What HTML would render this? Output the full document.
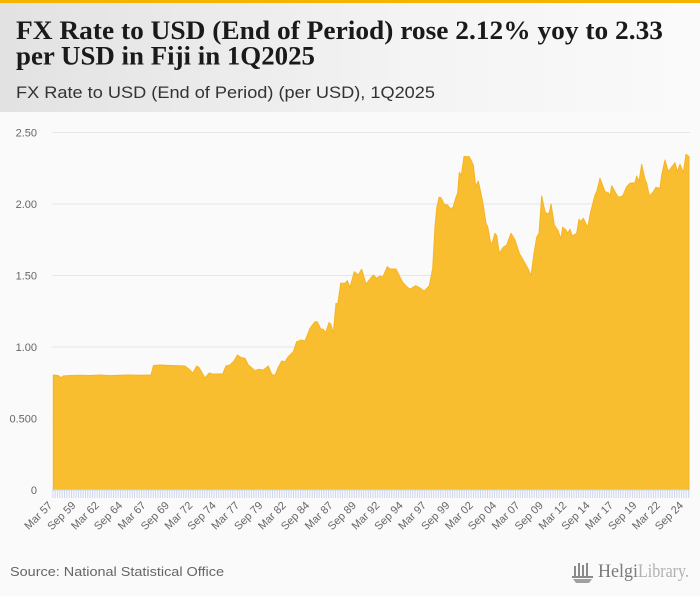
<!DOCTYPE html>
<html><head><meta charset="utf-8"><style>
html,body{margin:0;padding:0;background:#fafafa;}
svg{display:block;}
</style></head><body>
<svg width="700" height="596" viewBox="0 0 700 596" xmlns="http://www.w3.org/2000/svg">
<defs>
<linearGradient id="hg" x1="0" y1="0" x2="1" y2="0">
<stop offset="0" stop-color="#e2e2e2"/>
<stop offset="0.6" stop-color="#f4f4f4"/>
<stop offset="1" stop-color="#fafafa"/>
</linearGradient>
<pattern id="tk" x="52.3" y="490" width="2.3371" height="9" patternUnits="userSpaceOnUse">
<rect x="0" y="0" width="1" height="9" fill="#ccd6eb"/>
</pattern>
</defs>
<rect x="0" y="0" width="700" height="596" fill="#fafafa"/>
<rect x="0" y="3" width="700" height="109" fill="url(#hg)"/>
<rect x="0" y="0" width="700" height="3" fill="#f5b400"/>

<text x="16" y="39" font-family="Liberation Serif, serif" font-weight="bold" font-size="26" fill="#1a1a1a" textLength="647" lengthAdjust="spacingAndGlyphs">FX Rate to USD (End of Period) rose 2.12% yoy to 2.33</text>
<text x="16" y="64.5" font-family="Liberation Serif, serif" font-weight="bold" font-size="26" fill="#1a1a1a" textLength="299" lengthAdjust="spacingAndGlyphs">per USD in Fiji in 1Q2025</text>
<text x="16" y="98" font-family="Liberation Sans, sans-serif" font-size="17" fill="#333" textLength="419" lengthAdjust="spacingAndGlyphs">FX Rate to USD (End of Period) (per USD), 1Q2025</text>

<g stroke="#e6e6e6" stroke-width="1">
<line x1="52" y1="132.5" x2="690" y2="132.5"/>
<line x1="52" y1="204" x2="690" y2="204"/>
<line x1="52" y1="275.5" x2="690" y2="275.5"/>
<line x1="52" y1="347" x2="690" y2="347"/>
<line x1="52" y1="418.5" x2="690" y2="418.5"/>
</g>

<g font-family="Liberation Sans, sans-serif" font-size="11" fill="#666" text-anchor="end">
<text x="37" y="136.5">2.50</text>
<text x="37" y="208">2.00</text>
<text x="37" y="279.5">1.50</text>
<text x="37" y="351">1.00</text>
<text x="37" y="422.5">0.500</text>
<text x="37" y="494">0</text>
</g>

<path fill="#f9bd30" stroke="#f6b522" stroke-width="1" stroke-linejoin="round" d="M53.3,490 L53.3,375 L58,375.5 L61,377.7 L63,376 L70,375.5 L80,375.3 L90,375.5 L100,375 L110,375.6 L120,375.2 L130,375 L140,375.3 L151,375 L153.5,365.5 L160,365 L170,365.5 L180,365.8 L185,366 L190,370 L192.7,373.3 L196.7,366 L199,367.5 L205,378 L209.3,373 L212,374 L222.7,374 L226,366 L230,365 L234,361 L237.5,355 L241,357.5 L245,358.3 L248.3,365 L252,368 L255,371 L258.3,369.3 L263.3,370 L268.3,366 L271.7,374.3 L275,375.3 L278,368 L281.7,361 L285,361.7 L288.3,356.7 L293.3,351.7 L296.7,341.7 L301.7,340 L305,341 L310,328.3 L315,321.7 L317.3,321.7 L320.7,329 L323.3,329.3 L325.7,332.7 L329,322.7 L330.7,324 L333.3,333.3 L336,303.3 L337.7,304.3 L340.7,283.3 L345,283.3 L347.3,280.7 L350,287.3 L354.3,271.7 L358.3,275 L361.7,269.3 L366,284 L370,279 L373.3,275 L376.7,278.3 L380,276 L382.7,277.3 L387.3,266.7 L390,269 L396,269 L402.3,281.7 L406,286 L410,289.3 L415.7,285.7 L420,288 L424.3,291 L429.3,285.7 L432.7,268.3 L435,226.7 L436.7,208.3 L439,197.3 L441,197.7 L444.3,204.3 L447.3,205 L451,209 L453.3,206.7 L456,197.3 L457.7,192.7 L459.3,172.3 L461.3,175.5 L464,156.5 L469.3,156.7 L473.3,165 L475.7,186.7 L478.3,181 L482.7,201.7 L486,223.3 L487.7,226.7 L490.7,243.3 L492.3,242.7 L495,233.3 L496.7,235.7 L499.3,253.3 L503.3,247.3 L506.7,245 L511,233.3 L515,240 L519.3,253.3 L525,263.3 L528.3,269.3 L531,275.7 L534,253.3 L536.7,237.3 L539,233.3 L541.7,196 L545,211.7 L547.3,214 L549.3,212.7 L551,204 L554.3,225 L558.3,231 L560.7,239.3 L562.7,227.3 L566,230 L567.7,233.3 L570,229.3 L572.3,236 L576.7,233.3 L579,219.3 L581,221.7 L583.3,218.3 L587.7,227.3 L590.7,211.7 L595,195 L596.7,191.7 L600,178.3 L605,191.7 L608.3,192.7 L610,196 L611.7,185.7 L615,191.7 L618.3,197.3 L622.7,196 L626.7,186.7 L630,183.3 L635,182.7 L636.7,176 L639,181.7 L641.7,164.3 L645,179.3 L646.7,183.3 L649.3,196 L652.7,192.7 L656,187.3 L660,188.3 L661.7,175 L665,160 L668.3,171.7 L675,162.7 L677.3,171.7 L680,164.3 L683.3,172.7 L686,154.3 L689,156.7 L689,490 Z"/>

<rect x="52.3" y="490" width="638" height="8" fill="url(#tk)"/>
<line x1="52" y1="490" x2="690" y2="490" stroke="#ccd6eb" stroke-width="1"/>

<g font-family="Liberation Sans, sans-serif" font-size="11" fill="#666" text-anchor="end">
<text x="53" y="506" transform="rotate(-45 53 506)">Mar 57</text>
<text x="76.4" y="506" transform="rotate(-45 76.4 506)">Sep 59</text>
<text x="99.7" y="506" transform="rotate(-45 99.7 506)">Mar 62</text>
<text x="123.1" y="506" transform="rotate(-45 123.1 506)">Sep 64</text>
<text x="146.5" y="506" transform="rotate(-45 146.5 506)">Mar 67</text>
<text x="169.9" y="506" transform="rotate(-45 169.9 506)">Sep 69</text>
<text x="193.2" y="506" transform="rotate(-45 193.2 506)">Mar 72</text>
<text x="216.6" y="506" transform="rotate(-45 216.6 506)">Sep 74</text>
<text x="240" y="506" transform="rotate(-45 240 506)">Mar 77</text>
<text x="263.3" y="506" transform="rotate(-45 263.3 506)">Sep 79</text>
<text x="286.7" y="506" transform="rotate(-45 286.7 506)">Mar 82</text>
<text x="310.1" y="506" transform="rotate(-45 310.1 506)">Sep 84</text>
<text x="333.5" y="506" transform="rotate(-45 333.5 506)">Mar 87</text>
<text x="356.8" y="506" transform="rotate(-45 356.8 506)">Sep 89</text>
<text x="380.2" y="506" transform="rotate(-45 380.2 506)">Mar 92</text>
<text x="403.6" y="506" transform="rotate(-45 403.6 506)">Sep 94</text>
<text x="426.9" y="506" transform="rotate(-45 426.9 506)">Mar 97</text>
<text x="450.3" y="506" transform="rotate(-45 450.3 506)">Sep 99</text>
<text x="473.7" y="506" transform="rotate(-45 473.7 506)">Mar 02</text>
<text x="497.1" y="506" transform="rotate(-45 497.1 506)">Sep 04</text>
<text x="520.4" y="506" transform="rotate(-45 520.4 506)">Mar 07</text>
<text x="543.8" y="506" transform="rotate(-45 543.8 506)">Sep 09</text>
<text x="567.2" y="506" transform="rotate(-45 567.2 506)">Mar 12</text>
<text x="590.5" y="506" transform="rotate(-45 590.5 506)">Sep 14</text>
<text x="613.9" y="506" transform="rotate(-45 613.9 506)">Mar 17</text>
<text x="637.3" y="506" transform="rotate(-45 637.3 506)">Sep 19</text>
<text x="660.7" y="506" transform="rotate(-45 660.7 506)">Mar 22</text>
<text x="684" y="506" transform="rotate(-45 684 506)">Sep 24</text>
</g>

<text x="10" y="576" font-family="Liberation Sans, sans-serif" font-size="13" fill="#666" textLength="214" lengthAdjust="spacingAndGlyphs">Source: National Statistical Office</text>

<g fill="#8a8a8a">
<rect x="574" y="566" width="2" height="11"/>
<rect x="578" y="563" width="2" height="14"/>
<rect x="582" y="565" width="2" height="12"/>
<rect x="586" y="563" width="2" height="14"/>
<rect x="572" y="576" width="21" height="2"/>
<path d="M573,579 L592,579 L589,583 L576,583 Z" fill="#a0a0a0"/>
</g>
<text x="598" y="577" font-family="Liberation Serif, serif" font-size="19" fill="#7a7a7a" textLength="40" lengthAdjust="spacingAndGlyphs">Helgi</text>
<text x="638" y="577" font-family="Liberation Serif, serif" font-size="19" fill="#b0b0b0" textLength="51" lengthAdjust="spacingAndGlyphs">Library.</text>
</svg>
</body></html>
